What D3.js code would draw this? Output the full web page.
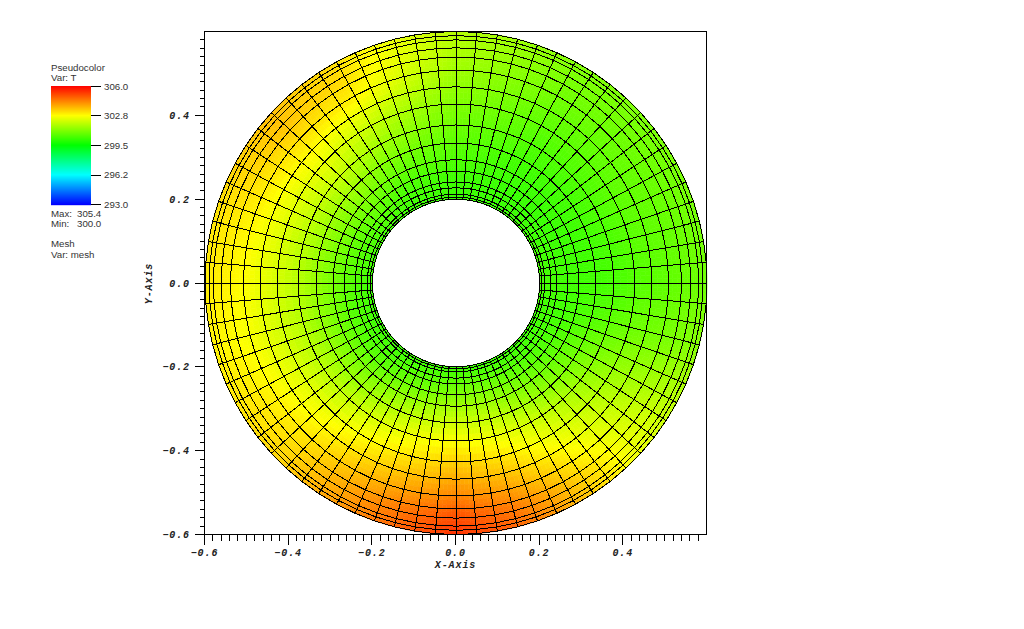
<!DOCTYPE html>
<html>
<head>
<meta charset="utf-8">
<script src="https://cdn.jsdelivr.net/npm/d3@7"></script>
<style>
html,body{margin:0;padding:0;background:#fff}
svg{display:block}
.leg{font-family:"Liberation Sans",sans-serif;font-size:9.7px;fill:#333}
.ax{font-family:"Liberation Mono",monospace;font-weight:bold;font-style:italic;font-size:10px;fill:#222;letter-spacing:.9px}
</style>
</head>
<body>
<svg id="c" width="1024" height="629"></svg>
<script>
const ringRadii=[0.2,0.205,0.212,0.227,0.241,0.267,0.294,0.334,0.377,0.427,0.468,0.508,0.539,0.561,0.58,0.59,0.6];
const sectorCount=76;
const fieldAngles=[0,30,60,90,120,138,165,195,225,255,270,285,315,345,360];
const fieldRadii=[0.2,0.26,0.32,0.38,0.44,0.5,0.55,0.6];
const f000=[300.4,300.3,300.3,300.4,300.6,300.7,300.8,300.9];
const f030=[300.3,300.2,300.3,300.5,300.7,300.8,300.9,301.0];
const f060=[300.2,300.2,300.3,300.5,300.7,300.9,301.0,301.1];
const f090=[300.2,300.3,300.6,300.9,301.2,301.5,301.7,301.8];
const f120=[300.2,300.5,301.0,301.6,302.2,302.9,303.2,303.2];
const f138=[300.3,300.8,301.4,302.1,302.6,303.1,303.5,303.6];
const f165=[300.3,300.7,301.3,301.9,302.4,302.8,303.0,303.1];
const f195=[300.2,300.6,301.2,301.8,302.2,302.6,302.8,302.9];
const f225=[300.2,300.6,301.3,302.0,302.6,303.0,303.2,303.3];
const f255=[300.2,300.9,301.8,302.6,303.2,303.85,304.4,304.7];
const f270=[300.2,301.0,301.95,302.75,303.5,304.2,304.9,305.4];
const f285=[300.2,301.0,301.8,302.55,303.2,303.85,304.4,304.7];
const f315=[300.2,300.6,301.1,301.7,302.1,302.4,302.6,302.6];
const f345=[300.3,300.3,300.5,300.7,300.9,301.0,301.1,301.2];
const fieldTable=[f000,f030,f060,f090,f120,f138,f165,f195,f225,f255,f270,f285,f315,f345,f000];
const colorStops=[293,296.25,299.5,302.75,306];
const colorRange=["#0000ff","#00ffff","#00ff00","#ffff00","#ff0000"];
const legendTicks=["293.0","296.2","299.5","302.8","306.0"];
const xTicksMajor=[-0.6,-0.4,-0.2,0,0.2,0.4];
const yTicksMajor=[-0.6,-0.4,-0.2,0,0.2,0.4];
const legendHeader=["Pseudocolor","Var: T"];
const legendStats=[["Max:","305.4"],["Min:","300.0"]];
const legendMesh=["Mesh","Var: mesh"];

const svg=d3.select("#c");
const x=d3.scaleLinear().domain([-0.6,0.6]).range([204.5,706.5]);
const y=d3.scaleLinear().domain([-0.6,0.6]).range([534.5,31.5]);
const xMesh=d3.scaleLinear().domain([-0.6,0.6]).range([205,707]);
const color=d3.scaleLinear().domain(colorStops).range(colorRange).interpolate(d3.interpolateRgb).clamp(true);

const rIdx=d3.scaleLinear().domain(fieldRadii).range(d3.range(fieldRadii.length)).clamp(true);
const aIdx=d3.scaleLinear().domain(fieldAngles).range(d3.range(fieldAngles.length)).clamp(true);
function field(deg,r){
  const a=aIdx(((deg%360)+360)%360), i=Math.min(Math.floor(a),fieldAngles.length-2), u=a-i;
  const q=rIdx(r), j=Math.min(Math.floor(q),fieldRadii.length-2), v=q-j;
  const A=fieldTable[i],B=fieldTable[i+1];
  return (A[j]*(1-v)+A[j+1]*v)*(1-u)+(B[j]*(1-v)+B[j+1]*v)*u;
}
const pt=(deg,r)=>[xMesh(r*Math.cos(deg*Math.PI/180)),y(r*Math.sin(deg*Math.PI/180))];
const line=d3.line();

// shading
const aSub=4,rSub=3,dA=360/sectorCount/aSub;
const cells=[];
for(let k=0;k<sectorCount*aSub;k++){
  for(let j=0;j<ringRadii.length-1;j++){
    for(let s=0;s<rSub;s++){
      const r0=ringRadii[j]+(ringRadii[j+1]-ringRadii[j])*s/rSub;
      const r1=ringRadii[j]+(ringRadii[j+1]-ringRadii[j])*(s+1)/rSub;
      cells.push({a0:k*dA,a1:(k+1)*dA,r0,r1});
    }
  }
}
const gF=svg.append("g");
gF.selectAll("path").data(cells).join("path")
  .attr("d",d=>line([pt(d.a0,d.r0),pt(d.a1,d.r0),pt(d.a1,d.r1),pt(d.a0,d.r1)])+"Z")
  .each(function(d){const c=color(field((d.a0+d.a1)/2,(d.r0+d.r1)/2));d3.select(this).attr("fill",c).attr("stroke",c).attr("stroke-width",0.6);});

// mesh
const gM=svg.append("g").attr("fill","none").attr("stroke","#000").attr("stroke-width",1).attr("shape-rendering","crispEdges");
const angles=d3.range(sectorCount).map(i=>i*360/sectorCount);
gM.selectAll(".ring").data(ringRadii).join("path").attr("class","ring")
  .attr("d",r=>line(angles.map(a=>pt(a,r)))+"Z");
gM.selectAll(".spoke").data(angles).join("path").attr("class","spoke")
  .attr("d",a=>line(ringRadii.map(r=>pt(a,r))));

// frame + ticks
const gA=svg.append("g").attr("stroke","#000").attr("stroke-width",1).attr("fill","none").attr("shape-rendering","crispEdges");
gA.append("rect").attr("x",x(-0.6)).attr("y",y(0.6)).attr("width",x(0.6)-x(-0.6)).attr("height",y(-0.6)-y(0.6));
const minor=d3.range(-30,30).map(i=>i*0.02);
const isMajor=v=>Math.abs(v*5-Math.round(v*5))<1e-6;
gA.selectAll(".xt").data(minor).join("line").attr("class","xt")
  .attr("x1",d=>x(d)).attr("x2",d=>x(d)).attr("y1",y(-0.6)).attr("y2",d=>y(-0.6)+(isMajor(d)?10:6));
gA.selectAll(".yt").data(minor).join("line").attr("class","yt")
  .attr("y1",d=>y(d)).attr("y2",d=>y(d)).attr("x1",x(-0.6)).attr("x2",d=>x(-0.6)-(isMajor(d)?10:5));
const fmt=v=>(v<0?"\u2212":"")+Math.abs(v).toFixed(1);
svg.selectAll(".xl").data(xTicksMajor).join("text").attr("class","ax xl")
  .attr("x",d=>x(d)).attr("y",556).attr("text-anchor","middle").text(fmt);
svg.selectAll(".yl").data(yTicksMajor).join("text").attr("class","ax yl")
  .attr("x",190).attr("y",d=>y(d)+3.5).attr("text-anchor","end").text(fmt);
svg.append("text").attr("class","ax").attr("x",455.5).attr("y",568).attr("text-anchor","middle").text("X-Axis");
svg.append("text").attr("class","ax").attr("transform","translate(151.5,283.5) rotate(-90)").attr("text-anchor","middle").text("Y-Axis");

// legend
const lg=svg.append("g");
const by=d3.scaleLinear().domain([293,306]).range([204.5,86]);
lg.selectAll(".bar").data(d3.range(86,205)).join("rect").attr("class","bar")
  .attr("x",51).attr("width",40).attr("y",d=>d).attr("height",1.2)
  .attr("fill",d=>color(by.invert(d+0.5)));
lg.selectAll(".lt").data(legendTicks).join("line").attr("class","lt")
  .attr("x1",91).attr("x2",101).attr("y1",d=>by(+d)).attr("y2",d=>by(+d)).attr("stroke","#000").attr("shape-rendering","crispEdges");
lg.selectAll(".lb").data(legendTicks).join("text").attr("class","leg lb")
  .attr("x",104).attr("y",d=>by(d==="296.2"?296.25:d==="302.8"?302.75:+d)+3.5).text(d=>d);
lg.selectAll(".h").data(legendHeader).join("text").attr("class","leg h").attr("x",51).attr("y",(d,i)=>71+i*10).text(d=>d);
lg.selectAll(".s1").data(legendStats).join("text").attr("class","leg s1").attr("x",51).attr("y",(d,i)=>217+i*9.5).text(d=>d[0]);
lg.selectAll(".s2").data(legendStats).join("text").attr("class","leg s2").attr("x",77).attr("y",(d,i)=>217+i*9.5).text(d=>d[1]);
lg.selectAll(".m").data(legendMesh).join("text").attr("class","leg m").attr("x",51).attr("y",(d,i)=>247+i*10.5).text(d=>d);
</script>
</body>
</html>
